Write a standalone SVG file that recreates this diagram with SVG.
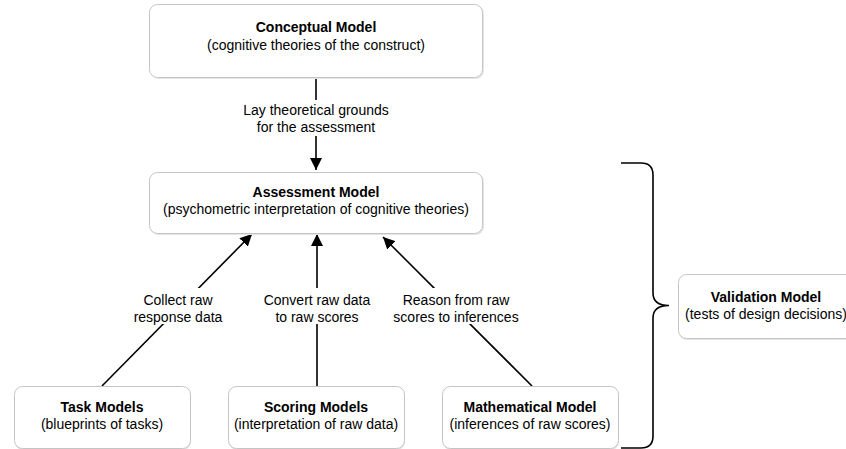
<svg xmlns="http://www.w3.org/2000/svg" width="846" height="449" viewBox="0 0 846 449">
<defs>
<style>
.box{fill:#ffffff;stroke:#c4c4c4;stroke-width:1}
.shadow{fill:#e6e6e6;stroke:none}
.t{font-family:"Liberation Sans",Arial,sans-serif;font-size:14px;fill:#000;text-anchor:middle}
.b{font-weight:bold}
.conn{stroke:#000;stroke-width:1.6;fill:none}
.lbl{fill:#ffffff;stroke:none}
</style>
<marker id="arr" viewBox="0 0 12 12" refX="12" refY="6" markerWidth="12" markerHeight="12" markerUnits="userSpaceOnUse" orient="auto">
<path d="M0,0 L12,6 L0,12 Z" fill="#000"/>
</marker>
</defs>
<rect width="846" height="449" fill="#ffffff"/>

<g id="connectors">
<line class="conn" x1="316" y1="77" x2="316" y2="170" marker-end="url(#arr)"/>
<line class="conn" x1="102" y1="386" x2="252" y2="234" marker-end="url(#arr)"/>
<line class="conn" x1="317" y1="386" x2="317" y2="234" marker-end="url(#arr)"/>
<line class="conn" x1="532" y1="386" x2="383" y2="237" marker-end="url(#arr)"/>
<path class="conn" d="M621,163 H641 Q653,163 653,175 V293 Q653,305.5 669,305.5 Q653,305.5 653,318 V436 Q653,448 641,448 H621"/>
</g>

<g id="label-lay">
<rect class="lbl" x="240" y="100" width="152" height="36"/>
<text class="t" x="316" y="115">Lay theoretical grounds</text>
<text class="t" x="316" y="132">for the assessment</text>
</g>
<g id="label-collect">
<rect class="lbl" x="133" y="288" width="90" height="36"/>
<text class="t" x="178" y="305">Collect raw</text>
<text class="t" x="178" y="322">response data</text>
</g>
<g id="label-convert">
<rect class="lbl" x="262" y="288" width="110" height="36"/>
<text class="t" x="317" y="305">Convert raw data</text>
<text class="t" x="317" y="322">to raw scores</text>
</g>
<g id="label-reason">
<rect class="lbl" x="391" y="288" width="130" height="36"/>
<text class="t" x="456" y="305">Reason from raw</text>
<text class="t" x="456" y="322">scores to inferences</text>
</g>

<g id="conceptual">
<rect class="shadow" x="151" y="6" width="333" height="73" rx="8"/>
<rect class="box" x="149.5" y="4.5" width="333" height="73" rx="8"/>
<text class="t b" x="316" y="32">Conceptual Model</text>
<text class="t" x="316" y="50">(cognitive theories of the construct)</text>
</g>

<g id="assessment">
<rect class="shadow" x="151" y="174" width="333" height="61" rx="8"/>
<rect class="box" x="149.5" y="172.5" width="333" height="61" rx="8"/>
<text class="t b" x="316" y="197">Assessment Model</text>
<text class="t" x="316" y="214">(psychometric interpretation of cognitive theories)</text>
</g>

<g id="task">
<rect class="shadow" x="15" y="388" width="176" height="62" rx="8"/>
<rect class="box" x="14.5" y="386.5" width="176" height="62" rx="8"/>
<text class="t b" x="102" y="412">Task Models</text>
<text class="t" x="102" y="429">(blueprints of tasks)</text>
</g>

<g id="scoring">
<rect class="shadow" x="229" y="388" width="176" height="62" rx="8"/>
<rect class="box" x="228.5" y="386.5" width="176" height="62" rx="8"/>
<text class="t b" x="316" y="412">Scoring Models</text>
<text class="t" x="316" y="429">(interpretation of raw data)</text>
</g>

<g id="mathematical">
<rect class="shadow" x="443" y="388" width="176" height="62" rx="8"/>
<rect class="box" x="442.5" y="386.5" width="176" height="62" rx="8"/>
<text class="t b" x="530" y="412">Mathematical Model</text>
<text class="t" x="530" y="429">(inferences of raw scores)</text>
</g>

<g id="validation">
<rect class="shadow" x="679" y="276" width="176" height="64" rx="8"/>
<rect class="box" x="678.5" y="274.5" width="176" height="64" rx="8"/>
<text class="t b" x="766" y="302">Validation Model</text>
<text class="t" x="766" y="319">(tests of design decisions)</text>
</g>
</svg>
